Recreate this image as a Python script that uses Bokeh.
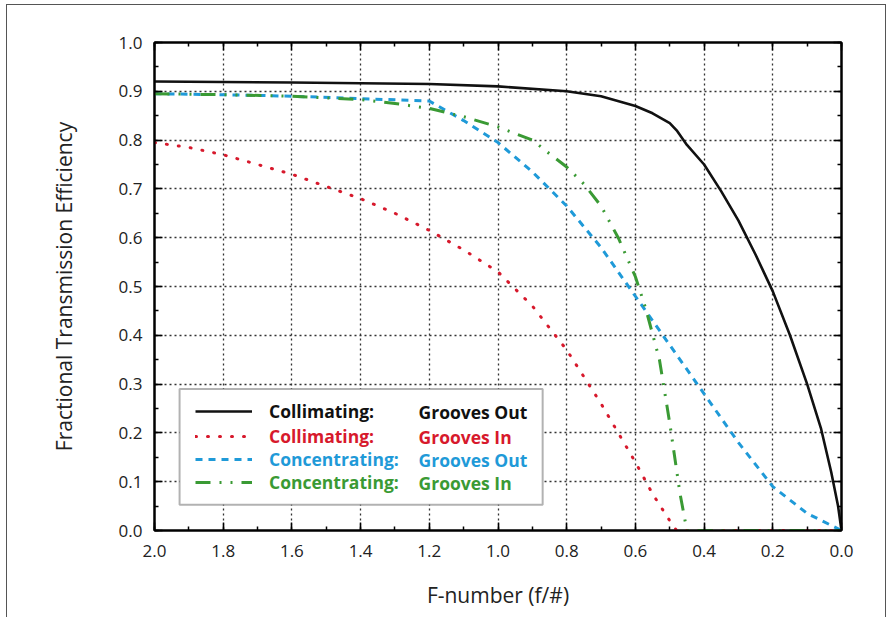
from bokeh.plotting import figure
from bokeh.models import (Range1d, LinearAxis, SingleIntervalTicker, PrintfTickFormatter,
                          CustomJSTickFormatter, Legend, LegendItem, BoxAnnotation, Label)
from bokeh.embed import file_html
from bokeh.resources import INLINE

# ---- data ----
coll_out_x = [2.0, 1.6, 1.2, 1.0, 0.8, 0.7, 0.6, 0.55, 0.5, 0.48, 0.45, 0.4, 0.35, 0.3,
              0.25, 0.2, 0.15, 0.1, 0.06, 0.03, 0.01, 0.0]
coll_out_y = [0.92, 0.918, 0.915, 0.91, 0.90, 0.89, 0.87, 0.855, 0.835, 0.82, 0.79, 0.75,
              0.695, 0.635, 0.565, 0.49, 0.40, 0.30, 0.21, 0.12, 0.05, 0.0]

coll_in_x = [2.0, 1.9, 1.8, 1.7, 1.6, 1.5, 1.4, 1.3, 1.2, 1.1, 1.0, 0.9, 0.8, 0.7, 0.6,
             0.55, 0.5, 0.48, 0.0]
coll_in_y = [0.795, 0.785, 0.77, 0.75, 0.73, 0.705, 0.68, 0.65, 0.615, 0.575, 0.53, 0.46,
             0.37, 0.26, 0.14, 0.075, 0.02, 0.0, 0.0]

conc_out_x = [2.0, 1.8, 1.6, 1.4, 1.2, 1.1, 1.0, 0.9, 0.8, 0.7, 0.6, 0.5, 0.4, 0.3, 0.2,
              0.1, 0.0]
conc_out_y = [0.895, 0.893, 0.89, 0.885, 0.88, 0.84, 0.795, 0.735, 0.665, 0.58, 0.48, 0.38,
              0.28, 0.18, 0.09, 0.035, 0.0]

conc_in_x = [2.0, 1.8, 1.6, 1.4, 1.3, 1.2, 1.1, 1.0, 0.9, 0.85, 0.8, 0.75, 0.7, 0.65, 0.6,
             0.57, 0.53, 0.5, 0.47, 0.45, 0.0]
conc_in_y = [0.895, 0.893, 0.89, 0.883, 0.875, 0.865, 0.848, 0.827, 0.80, 0.772, 0.745,
             0.71, 0.665, 0.60, 0.52, 0.455, 0.35, 0.22, 0.075, 0.0, 0.0]

legend_col1 = ["Collimating:", "Collimating:", "Concentrating:", "Concentrating:"]
legend_col2 = ["Grooves Out", "Grooves In", "Grooves Out", "Grooves In"]

x_label = "F-number (f/#)"
y_label = "Fractional Transmission Efficiency"

FONT = "Open Sans"
BLACK = "#111111"
RED = "#d7192c"
BLUE = "#1f9ad8"
GREEN = "#3a9a34"

p = figure(width=880, height=613, output_backend="svg", toolbar_location=None,
           x_range=Range1d(2.0, 0.0), y_range=Range1d(0.0, 1.0),
           min_border_left=147, min_border_right=46, min_border_top=37, min_border_bottom=88,
           background_fill_color="white", border_fill_color="white",
           styles={"border-left": "1.5px solid #555", "border-top": "1.5px solid #555",
                   "border-right": "1.5px solid #555",
                   "margin-left": "6px", "margin-top": "4px"})

p.outline_line_color = "black"
p.outline_line_width = 2

xt = SingleIntervalTicker(interval=0.2, num_minor_ticks=2)
yt = SingleIntervalTicker(interval=0.1, num_minor_ticks=2)

p.xaxis.ticker = xt
p.yaxis.ticker = yt
p.xaxis.formatter = PrintfTickFormatter(format="%.1f")
p.yaxis.formatter = PrintfTickFormatter(format="%.1f")

for ax in (p.xaxis[0], p.yaxis[0]):
    ax.major_tick_in = 8
    ax.major_tick_out = 0
    ax.minor_tick_in = 4
    ax.minor_tick_out = 0
    ax.axis_line_width = 2
    ax.major_tick_line_width = 1.5
    ax.minor_tick_line_width = 1.5
    ax.major_label_text_font = FONT
    ax.major_label_text_font_size = "17px"
    ax.major_label_text_color = "#222222"
    ax.axis_label_text_font = FONT
    ax.axis_label_text_font_size = "21px"
    ax.axis_label_text_font_style = "normal"
    ax.axis_label_text_color = "#222222"

p.xaxis.axis_label = x_label
p.yaxis.axis_label = y_label
p.xaxis.major_label_standoff = 14
p.yaxis.major_label_standoff = 12
p.xaxis.axis_label_standoff = 21
p.yaxis.axis_label_standoff = 38

blank = CustomJSTickFormatter(code="return ''")
top_ax = LinearAxis(ticker=SingleIntervalTicker(interval=0.2, num_minor_ticks=2), formatter=blank)
right_ax = LinearAxis(ticker=SingleIntervalTicker(interval=0.1, num_minor_ticks=2), formatter=blank)
for ax in (top_ax, right_ax):
    ax.major_tick_in = 8
    ax.major_tick_out = 0
    ax.minor_tick_in = 4
    ax.minor_tick_out = 0
    ax.axis_line_width = 2
    ax.major_tick_line_width = 1.5
    ax.minor_tick_line_width = 1.5
    ax.major_label_standoff = 0
p.add_layout(top_ax, "above")
p.add_layout(right_ax, "right")

for g in (p.xgrid[0], p.ygrid[0]):
    g.grid_line_color = "#333333"
    g.grid_line_dash = "2 3"
    g.grid_line_width = 1.3

r_co = p.line(coll_out_x, coll_out_y, line_color=BLACK, line_width=2.6)
r_ci = p.line(coll_in_x, coll_in_y, line_color=RED, line_width=3, line_dash="1 11",
              line_cap="round")
r_xo = p.line(conc_out_x, conc_out_y, line_color=BLUE, line_width=3, line_dash="7 6")
r_xi = p.line(conc_in_x, conc_in_y, line_color=GREEN, line_width=3,
              line_dash="15 9 2 9 2 9")

# legend box
box = BoxAnnotation(left=1.927, right=0.87, top=0.29, bottom=0.053,
                    fill_color="white", fill_alpha=1.0, line_color="black", line_width=2)
p.add_layout(box)

renderers = [r_co, r_ci, r_xo, r_xi]
colors = [BLACK, RED, BLUE, GREEN]
row_y = [107, 82, 59, 36]
col2_y = [0.243, 0.1916, 0.1437, 0.0965]
for r, c, t1, t2, ly, y2 in zip(renderers, colors, legend_col1, legend_col2, row_y, col2_y):
    lg = Legend(items=[LegendItem(label=t1, renderers=[r])], location=(41, ly),
                padding=0, margin=0, glyph_width=57, glyph_height=20, label_height=20,
                label_standoff=17, spacing=0, border_line_alpha=0, background_fill_alpha=0,
                label_text_color=c, label_text_font=FONT, label_text_font_style="bold",
                label_text_font_size="17.5px")
    p.add_layout(lg)
    p.add_layout(Label(x=1.2314, y=y2, text=t2, text_color=c, text_font=FONT,
                       text_font_style="bold", text_font_size="17.5px",
                       text_baseline="middle", text_align="left"))

open("out.html", "w").write(file_html(p, INLINE))
